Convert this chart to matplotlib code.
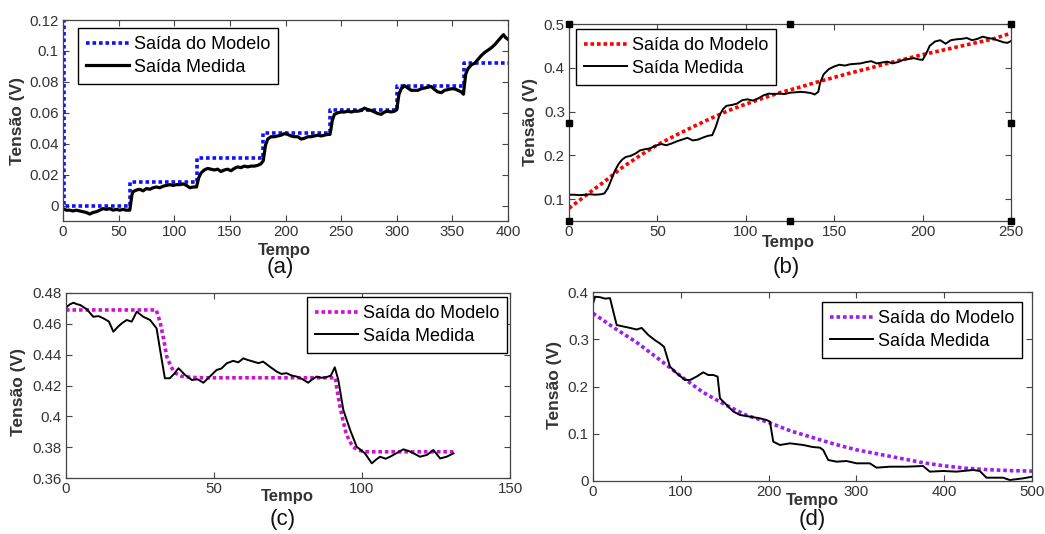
import matplotlib
matplotlib.use("Agg")
import matplotlib.pyplot as plt
from matplotlib.ticker import FuncFormatter

plt.rcParams['font.family'] = ['Liberation Sans', 'DejaVu Sans']

W, H = 1045, 534

# ---- (a) step tests ----
a_model_t = [0, 1, 60, 120, 180, 240, 300, 360, 400]
a_model_v = [0.12, 0.0, 0.0155, 0.031, 0.047, 0.0615, 0.077, 0.092, 0.092]
a_meas_t = [0, 3, 6, 9, 12, 15, 18, 21, 24, 27, 30, 33, 36, 39, 42, 45, 48, 51, 54, 57, 60,
            61, 62, 63, 66, 69, 72, 75, 78, 81, 84, 87, 90, 93, 96, 99, 102, 105, 108, 111, 114, 117, 120,
            121, 122, 124, 127, 130, 133, 136, 139, 142, 145, 148, 151, 154, 157, 160, 163, 166, 169, 172, 175, 178, 180,
            181, 182, 184, 187, 190, 193, 196, 199, 202, 205, 208, 211, 214, 217, 220, 223, 226, 229, 232, 235, 238, 240,
            241, 242, 244, 247, 250, 253, 256, 259, 262, 265, 268, 271, 274, 277, 280, 283, 286, 289, 292, 295, 298, 300,
            301, 302, 304, 307, 310, 313, 316, 319, 322, 325, 328, 331, 334, 337, 340, 343, 346, 349, 352, 355, 358, 360,
            361, 362, 364, 367, 370, 373, 376, 379, 382, 385, 388, 391, 394, 396, 398, 400]
a_meas_v = [-0.002, -0.003, -0.003, -0.0035, -0.003, -0.0035, -0.004, -0.0045, -0.0055, -0.0045, -0.004,
            -0.003, -0.002, -0.0025, -0.002, -0.003, -0.0025, -0.003, -0.0025, -0.003, -0.003,
            0.002, 0.007, 0.009, 0.010, 0.0105, 0.0095, 0.011, 0.0105, 0.0115, 0.012, 0.0115, 0.0125, 0.013,
            0.0135, 0.013, 0.0135, 0.0135, 0.014, 0.013, 0.0115, 0.012, 0.012,
            0.015, 0.018, 0.021, 0.023, 0.024, 0.0235, 0.023, 0.0235, 0.022, 0.023, 0.0235, 0.0225, 0.024,
            0.025, 0.0245, 0.0255, 0.025, 0.0255, 0.0255, 0.026, 0.027, 0.029,
            0.034, 0.039, 0.043, 0.0445, 0.0445, 0.045, 0.0455, 0.0465, 0.046, 0.045, 0.0445, 0.0445, 0.043,
            0.0435, 0.0445, 0.0445, 0.045, 0.0455, 0.045, 0.0455, 0.046, 0.046,
            0.050, 0.055, 0.059, 0.060, 0.0605, 0.0605, 0.061, 0.0605, 0.061, 0.061, 0.0615, 0.063, 0.062,
            0.0615, 0.0605, 0.0595, 0.059, 0.0605, 0.061, 0.0605, 0.061, 0.062,
            0.067, 0.072, 0.0755, 0.0775, 0.076, 0.0745, 0.0745, 0.0745, 0.0755, 0.076, 0.0765, 0.077, 0.075,
            0.0735, 0.073, 0.0745, 0.075, 0.0755, 0.0755, 0.0745, 0.0735, 0.072,
            0.079, 0.085, 0.0885, 0.091, 0.092, 0.0945, 0.097, 0.099, 0.1005, 0.102, 0.104, 0.1065, 0.109,
            0.1105, 0.1085, 0.1075]

# ---- (b) ----
b_model_t = [0, 10, 20, 30, 40, 50, 60, 70, 80, 90, 100, 110, 120, 130, 140, 150, 160, 170, 180,
             190, 200, 210, 220, 230, 240, 250]
b_model_v = [0.079, 0.11, 0.14, 0.172, 0.199, 0.224, 0.245, 0.265, 0.284, 0.302, 0.317, 0.331, 0.344,
             0.355, 0.367, 0.378, 0.389, 0.399, 0.41, 0.42, 0.43, 0.439, 0.448, 0.457, 0.466, 0.479]
b_meas_t = [0, 3, 6, 9, 12, 15, 18, 20, 22, 24, 26, 28, 30, 32, 35, 38, 40, 43, 46, 49, 52, 55, 58, 61,
            64, 67, 70, 73, 76, 79, 81, 83, 85, 87, 89, 92, 95, 98, 101, 104, 107, 110, 113, 116, 119,
            122, 125, 128, 131, 134, 137, 139, 141, 142, 144, 147, 150, 153, 156, 159, 162, 165, 168,
            171, 174, 177, 180, 183, 186, 189, 192, 195, 198, 200, 202, 204, 207, 210, 213, 216, 219,
            222, 225, 228, 231, 234, 237, 240, 243, 246, 248, 250]
b_meas_v = [0.11, 0.11, 0.109, 0.11, 0.111, 0.11, 0.111, 0.113, 0.125, 0.145, 0.165, 0.18, 0.19, 0.196,
            0.199, 0.205, 0.211, 0.214, 0.216, 0.222, 0.226, 0.223, 0.227, 0.232, 0.236, 0.24, 0.234,
            0.236, 0.241, 0.245, 0.246, 0.265, 0.29, 0.305, 0.313, 0.315, 0.318, 0.326, 0.328, 0.325,
            0.33, 0.337, 0.341, 0.34, 0.341, 0.34, 0.343, 0.344, 0.345, 0.344, 0.342, 0.339, 0.345,
            0.365, 0.385, 0.397, 0.403, 0.407, 0.405, 0.408, 0.409, 0.41, 0.413, 0.415, 0.41, 0.412,
            0.414, 0.41, 0.413, 0.418, 0.42, 0.422, 0.419, 0.418, 0.432, 0.45, 0.46, 0.463, 0.455,
            0.463, 0.465, 0.466, 0.468, 0.463, 0.466, 0.471, 0.468, 0.466, 0.462, 0.458, 0.457, 0.461]

# ---- (c) ----
c_model_t = [0, 30.5, 31.8, 33, 34, 35.5, 37, 39, 41, 45, 91, 91.5, 92.5, 93.5, 94.5, 95.5, 97, 99, 101, 131]
c_model_v = [0.469, 0.469, 0.461, 0.450, 0.439, 0.432, 0.428, 0.426, 0.4255, 0.425, 0.425, 0.418, 0.407,
             0.398, 0.390, 0.385, 0.380, 0.378, 0.377, 0.377]
c_meas_t = [0, 1.2, 2.5, 3.6, 4.8, 7, 9.2, 11, 12.6, 14.5, 16, 17.5, 18.9, 20.5, 22.2, 23.9, 26.1, 28.4,
            30.6, 31.8, 33.4, 35.1, 36.5, 38, 40.2, 42.5, 44.5, 46.4, 48.6, 50.9, 52.5, 54.3, 56.5, 58.2,
            59.9, 61.5, 63.3, 65, 66.6, 69, 71.2, 72.8, 74.5, 76.2, 77.9, 80, 81.8, 83.2, 84.7, 86.3, 88,
            89.5, 90.8, 92, 93.7, 96, 98.2, 101, 103.3, 104.8, 106.1, 108, 109.5, 112, 114, 115.8, 117.4,
            119.6, 122, 124.1, 126.4, 128.6, 130.9]
c_meas_v = [0.4705, 0.4725, 0.4737, 0.4728, 0.4722, 0.4695, 0.4646, 0.4650, 0.4636, 0.4615, 0.4549,
            0.4580, 0.4604, 0.4625, 0.4614, 0.4679, 0.4646, 0.4625, 0.4571, 0.4430, 0.4247, 0.4247,
            0.4275, 0.4312, 0.4269, 0.4236, 0.4240, 0.4218, 0.4258, 0.4301, 0.4310, 0.4344, 0.4360,
            0.4350, 0.4376, 0.4365, 0.4355, 0.4345, 0.4355, 0.4320, 0.4290, 0.4275, 0.4280, 0.4265,
            0.4258, 0.4240, 0.4218, 0.4240, 0.4258, 0.4250, 0.4254, 0.4265, 0.4318, 0.4236, 0.4041,
            0.3911, 0.3803, 0.3760, 0.3695, 0.3720, 0.3738, 0.3725, 0.3738, 0.3765, 0.3786, 0.3775,
            0.3760, 0.3738, 0.3750, 0.3782, 0.3727, 0.3738, 0.3760]

# ---- (d) ----
d_model_t = [0, 25, 50, 75, 100, 125, 150, 175, 200, 225, 250, 275, 300, 325, 350, 375, 400, 425, 450, 475, 500]
d_model_v = [0.355, 0.323, 0.293, 0.258, 0.222, 0.188, 0.162, 0.139, 0.124, 0.106, 0.092, 0.078,
             0.066, 0.057, 0.048, 0.039, 0.032, 0.027, 0.024, 0.022, 0.021]
d_meas_t = [0, 2.3, 8, 13.7, 19.4, 23.2, 27, 34.6, 42.1, 49.7, 55.4, 63, 70.6, 76.3, 80.9, 87.7, 95.3,
            104.8, 110.5, 118, 125.6, 131.3, 137, 141.9, 144.6, 152.2, 159.8, 167.4, 178.8, 190.1, 197.7,
            201.5, 205.3, 212.9, 224.3, 239.4, 250, 258.4, 262.2, 267.9, 277.4, 288.8, 300.2, 315.3, 322.9,
            338.1, 357, 376, 383.6, 398.8, 413.9, 432.9, 440.5, 448.1, 467.1, 474.7, 489.9, 500]
d_meas_v = [0.375, 0.390, 0.389, 0.386, 0.387, 0.358, 0.330, 0.327, 0.324, 0.3206, 0.324, 0.309, 0.298,
            0.291, 0.284, 0.242, 0.228, 0.2138, 0.2138, 0.221, 0.230, 0.2243, 0.2243, 0.221, 0.175, 0.161,
            0.147, 0.1397, 0.1362, 0.1326, 0.129, 0.1256, 0.0833, 0.0762, 0.0797, 0.0762, 0.0720, 0.0706,
            0.0656, 0.0444, 0.0409, 0.0423, 0.0374, 0.0374, 0.0282, 0.0303, 0.0303, 0.0317, 0.0198,
            0.0212, 0.0198, 0.0233, 0.0212, 0.007, 0.007, 0.0021, 0.0056, 0.009]

GRAY = '#444444'
TXT = '#333333'


def box(x0, y0, x1, y1):
    # pixel box (top-left origin) -> figure fraction rect
    return [x0 / W, 1 - y1 / H, (x1 - x0) / W, (y1 - y0) / H]


def style(ax, xlim, ylim, xticks, yticks):
    ax.set_xlim(*xlim)
    ax.set_ylim(*ylim)
    ax.set_xticks(xticks)
    ax.set_yticks(yticks)
    ax.yaxis.set_major_formatter(FuncFormatter(lambda v, p: '%g' % round(v, 4)))
    ax.tick_params(direction='in', top=True, right=True, length=4, width=0.8,
                   color=GRAY, labelcolor=TXT, labelsize=10.8, pad=3)
    for s in ax.spines.values():
        s.set_color(GRAY)
        s.set_linewidth(0.9)


def labels(ax, tempo_xy, tensao_xy, cap, cap_xy):
    fig.text(tempo_xy[0] / W, 1 - tempo_xy[1] / H, 'Tempo', ha='center', va='center',
             fontsize=12, fontweight='bold', color=TXT)
    fig.text(tensao_xy[0] / W, 1 - tensao_xy[1] / H, 'Tensão (V)', ha='center', va='center',
             rotation=90, fontsize=12.5, fontweight='bold', color=TXT)
    fig.text(cap_xy[0] / W, 1 - cap_xy[1] / H, cap, ha='center', va='center',
             fontsize=16, color='#111111')


def legend(ax, x0, y0):
    leg = ax.legend(loc='upper left', bbox_to_anchor=(x0 / W, 1 - y0 / H),
                    bbox_transform=fig.transFigure, borderaxespad=0, fontsize=13,
                    frameon=True, fancybox=False, framealpha=1, edgecolor='black',
                    handlelength=2.4, handletextpad=0.25, labelspacing=0.3, borderpad=0.45)
    leg.get_frame().set_linewidth(1.0)


fig = plt.figure(figsize=(W / 100, H / 100), dpi=100)
dots = dict(linestyle=(0, (1, 0.8)), linewidth=2.6, dash_capstyle='butt')

# (a)
ax = fig.add_axes(box(63, 20, 508, 221))
ax.plot(a_model_t, a_model_v, color='#1010ff', drawstyle='steps-post', label='Saída do Modelo', **dots)
ax.plot(a_meas_t, a_meas_v, color='black', linewidth=2.3, label='Saída Medida')
style(ax, (0, 400), (-0.01, 0.12), range(0, 401, 50), [0, 0.02, 0.04, 0.06, 0.08, 0.1, 0.12])
legend(ax, 78, 28)
labels(ax, (284, 250), (18, 121), '(a)', (280, 267))

# (b)
ax = fig.add_axes(box(569, 24, 1011, 221))
ax.plot(b_model_t, b_model_v, color='#ff0000', label='Saída do Modelo', **dots)
ax.plot(b_meas_t, b_meas_v, color='black', linewidth=1.4, label='Saída Medida')
style(ax, (0, 250), (0.05, 0.5), range(0, 251, 50), [0.1, 0.2, 0.3, 0.4, 0.5])
legend(ax, 576, 29)
labels(ax, (788, 243), (531, 122), '(b)', (786, 267))
# selection handles left on the frame
hx = [0, 0.5, 1, 0, 1, 0, 0.5, 1]
hy = [1, 1, 1, 0.5, 0.5, 0, 0, 0]
ax.plot(hx, hy, linestyle='none', marker='s', markersize=4.5, color='black',
        transform=ax.transAxes, clip_on=False, zorder=5)

# (c)
ax = fig.add_axes(box(66, 293, 510, 478))
ax.plot(c_model_t, c_model_v, color='#d010d0', label='Saída do Modelo', **dots)
ax.plot(c_meas_t, c_meas_v, color='black', linewidth=1.4, label='Saída Medida')
style(ax, (0, 150), (0.36, 0.48), [0, 50, 100, 150], [0.36, 0.38, 0.4, 0.42, 0.44, 0.46, 0.48])
legend(ax, 307, 297)
labels(ax, (287, 497), (19, 392), '(c)', (283, 520))

# (d)
ax = fig.add_axes(box(593, 292, 1032, 481))
ax.plot(d_model_t, d_model_v, color='#9b20f0', label='Saída do Modelo', **dots)
ax.plot(d_meas_t, d_meas_v, color='black', linewidth=1.4, label='Saída Medida')
style(ax, (0, 500), (0, 0.4), range(0, 501, 100), [0, 0.1, 0.2, 0.3, 0.4])
legend(ax, 822, 302)
labels(ax, (812, 500), (555, 385), '(d)', (812, 520))

fig.savefig('out.png', dpi=100)
